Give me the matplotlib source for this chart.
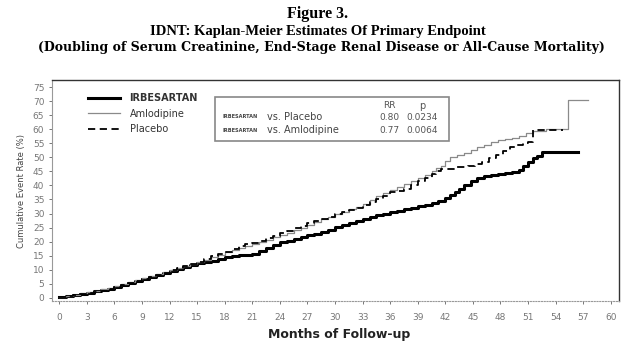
import matplotlib
matplotlib.use("Agg")
import matplotlib.pyplot as plt
from matplotlib.lines import Line2D
from matplotlib.patches import Rectangle

# Kaplan-Meier step curves (months, cumulative event rate %)
irb_months = [0, 0.75, 1.5, 2.25, 3, 3.75, 4.5, 5.25, 6, 6.75, 7.5, 8.25, 9, 9.75,
              10.5, 11.25, 12, 12.75, 13.5, 14.25, 15, 15.75, 16.5, 17.25, 18,
              18.75, 19.5, 20.25, 21, 21.75, 22.5, 23.25, 24, 24.75, 25.5, 26.25,
              27, 27.75, 28.5, 29.25, 30, 30.75, 31.5, 32.25, 33, 33.75, 34.5,
              35.25, 36, 36.75, 37.5, 38.25, 39, 39.75, 40.5, 41.25, 42, 42.5, 43,
              43.5, 44, 44.75, 45.5, 46.25, 47, 47.75, 48.5, 49.25, 50, 50.5, 51,
              51.5, 52, 52.5, 56.4]
irb_rate = [0.4, 0.6, 1.0, 1.4, 1.8, 2.3, 2.8, 3.3, 3.9, 4.5, 5.2, 6.0, 6.8, 7.3,
            8.0, 8.8, 9.6, 10.2, 11.0, 11.7, 12.3, 12.7, 13.2, 14.0, 14.6, 14.9,
            15.2, 15.4, 15.6, 16.6, 17.8, 18.8, 19.8, 20.4, 21.0, 21.5, 22.2,
            22.8, 23.5, 24.3, 25.2, 26.0, 26.8, 27.4, 28.0, 28.8, 29.4, 29.9,
            30.4, 31.0, 31.5, 32.0, 32.6, 33.1, 33.8, 34.6, 35.6, 36.5, 37.5,
            38.8, 40.3, 41.5, 42.5, 43.2, 43.8, 44.1, 44.4, 44.9, 45.6, 46.8,
            48.5, 49.6, 50.5, 52.0, 52.0]

aml_months = [0, 0.75, 1.5, 2.25, 3, 3.75, 4.5, 5.25, 6, 6.75, 7.5, 8.25, 9, 9.75,
              10.5, 11.25, 12, 12.75, 13.5, 14.25, 15, 15.75, 16.5, 17.25, 18,
              18.75, 19.5, 20.25, 21, 21.75, 22.5, 23.25, 24, 24.75, 25.5, 26.25,
              27, 27.75, 28.5, 29.25, 30, 30.75, 31.5, 32.25, 33, 33.75, 34.5,
              35.25, 36, 36.75, 37.5, 38.25, 39, 39.75, 40.5, 41, 41.5, 42, 42.5,
              43.25, 44, 44.75, 45.5, 46.25, 47, 47.75, 48.5, 49.25, 50, 50.75,
              51.5, 53, 55.3, 57.5]
aml_rate = [0.5, 0.8, 1.2, 1.6, 2.0, 2.5, 3.0, 3.6, 4.2, 4.8, 5.5, 6.2, 7.0, 7.7,
            8.4, 9.2, 10.0, 10.6, 11.3, 11.9, 12.6, 13.5, 14.5, 15.4, 16.2, 16.9,
            17.6, 18.4, 19.2, 19.9, 20.6, 21.5, 22.5, 23.2, 24.0, 24.9, 25.8,
            26.9, 28.0, 28.9, 29.8, 30.6, 31.5, 32.5, 33.5, 34.8, 36.2, 37.4,
            38.5, 39.5, 40.5, 41.5, 42.5, 43.8, 45.3, 46.2, 47.0, 48.6, 50.0,
            50.8, 51.5, 52.5, 53.5, 54.5, 55.5, 56.0, 56.5, 57.0, 57.5, 58.5,
            59.5, 60.0, 70.5, 70.5]

pla_months = [0, 0.75, 1.5, 2.25, 3, 3.75, 4.5, 5.25, 6, 6.75, 7.5, 8.25, 9, 9.75,
              10.5, 11.25, 12, 12.75, 13.5, 14.25, 15, 15.75, 16.5, 17.25, 18,
              18.75, 19.5, 20.25, 21, 21.75, 22.5, 23.25, 24, 24.75, 25.5, 26.25,
              27, 27.75, 28.5, 29.25, 30, 30.75, 31.5, 32.25, 33, 33.75, 34.5,
              35.25, 36, 36.75, 37.5, 38.25, 39, 39.75, 40.5, 41, 41.5, 43, 44.5,
              45.25, 46, 46.75, 47.5, 48.25, 49, 49.75, 50.5, 51, 51.5, 54.8]
pla_rate = [0.4, 0.7, 1.0, 1.3, 1.6, 2.0, 2.4, 3.0, 3.8, 4.5, 5.3, 6.0, 6.8, 7.5,
            8.2, 9.0, 9.8, 10.5, 11.2, 12.0, 12.8, 13.8, 14.8, 15.7, 16.5, 17.4,
            18.3, 19.0, 19.6, 20.4, 21.2, 22.1, 23.0, 23.9, 24.8, 25.6, 26.5,
            27.2, 28.0, 28.9, 29.8, 30.5, 31.2, 32.1, 33.0, 34.1, 35.3, 36.4,
            37.5, 38.1, 38.8, 40.1, 41.5, 42.8, 44.0, 45.0, 46.0, 46.5, 46.8,
            47.6, 48.5, 49.8, 51.0, 52.3, 53.5, 54.3, 55.0, 55.5, 59.8, 59.8]

x_ticks = list(range(0, 61, 3))
y_ticks = list(range(0, 76, 5))

comparisons = ["Placebo", "Amlodipine"]
rr_values = ["0.80", "0.77"]
p_values = ["0.0234", "0.0064"]

W, H = 635, 362
fig = plt.figure(figsize=(W / 100, H / 100), dpi=100)
ax = fig.add_axes([52 / W, 1 - 301 / H, 567 / W, 221 / H])


def px(x, y):
    return x / W, 1 - y / H


serif = "Liberation Serif"
fig.text(*px(318, 14), "Figure 3.", ha="center", va="center",
         family=serif, weight="bold", fontsize=11.5)
fig.text(*px(318, 31), "IDNT: Kaplan-Meier Estimates Of Primary Endpoint",
         ha="center", va="center", family=serif, weight="bold", fontsize=10.5)
# the third title line is set wider in the original
fig.text(*px(321, 48),
         "(Doubling of Serum Creatinine, End-Stage Renal Disease or All-Cause Mortality)",
         ha="center", va="center", family="DejaVu Serif", weight="bold",
         fontsize=9)

ax.plot(irb_months, irb_rate, drawstyle="steps-post", color="black", lw=2.2)
ax.plot(aml_months, aml_rate, drawstyle="steps-post", color="#8a8a8a", lw=0.9)
ax.plot(pla_months, pla_rate, drawstyle="steps-post", color="black", lw=1.3,
        dashes=(4, 2.5))

ax.set_xlim(-0.8, 60.9)
ax.set_ylim(-1.1, 77.5)
ax.set_xticks(x_ticks)
ax.set_yticks(y_ticks)
ax.tick_params(labelsize=6.5, colors="#777777", length=2.5, width=0.7)
ax.tick_params(axis="x", pad=6)
ax.tick_params(axis="y", pad=3)
for name in ["top", "right"]:
    ax.spines[name].set_color("#333333")
    ax.spines[name].set_linewidth(1.0)
ax.spines["left"].set_color("#999999")
ax.spines["bottom"].set_color("#999999")
ax.spines["bottom"].set_linestyle((0, (1, 1.5)))

ax.set_ylabel("Cumulative Event Rate (%)", fontsize=6, color="#444444",
              labelpad=5)
ax.set_xlabel("Months of Follow-up", fontsize=9, weight="bold",
              color="#222222", labelpad=3)
ax.xaxis.set_label_coords(287 / 567, -27 / 221)

handles = [Line2D([], [], color="black", lw=2.2),
           Line2D([], [], color="#8a8a8a", lw=0.9),
           Line2D([], [], color="black", lw=1.3, dashes=(4, 2.5))]
leg = ax.legend(handles, ["IRBESARTAN", "Amlodipine", "Placebo"],
                loc="upper left", bbox_to_anchor=(0.063, 0.94), frameon=False,
                fontsize=7, handlelength=3.3, handletextpad=1.0,
                labelspacing=0.55, borderpad=0, borderaxespad=0)
leg.get_texts()[0].set_weight("bold")
for t in leg.get_texts():
    t.set_color("#333333")

ax.add_patch(Rectangle((0.2875, 0.724), 0.4125, 0.199, transform=ax.transAxes,
                       fill=False, edgecolor="#888888", lw=1.2))
fig.text(*px(389, 106), "RR", ha="center", va="center", fontsize=6.5,
         color="#555555")
fig.text(*px(422, 106), "p", ha="center", va="center", fontsize=7,
         color="#555555")
for i, (c, rr, p) in enumerate(zip(comparisons, rr_values, p_values)):
    y = 117 + i * 13
    fig.text(*px(222, y), "IRBESARTAN", ha="left", va="center", fontsize=3.6,
             weight="bold", color="#444444")
    fig.text(*px(267, y), "vs. " + c, ha="left", va="center", fontsize=7,
             color="#444444")
    fig.text(*px(389, y), rr, ha="center", va="center", fontsize=6.5,
             color="#555555")
    fig.text(*px(422, y), p, ha="center", va="center", fontsize=6.5,
             color="#555555")

fig.savefig("out.png", dpi=100)
